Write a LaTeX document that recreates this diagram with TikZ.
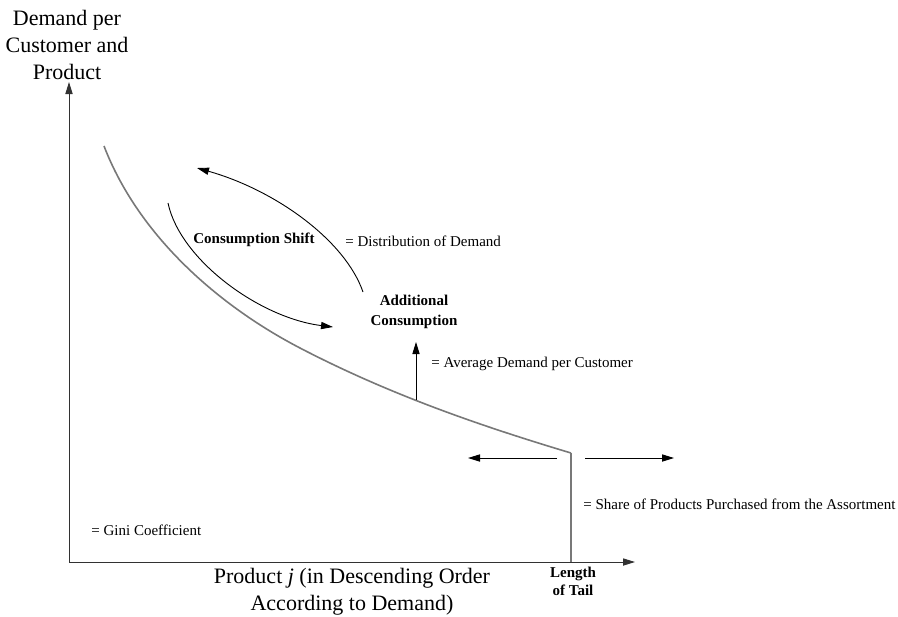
\documentclass[tikz,border=0pt]{standalone}
\usepackage{fontspec}
\setmainfont{Liberation Serif}
\usetikzlibrary{arrows.meta}
\definecolor{cCurve}{RGB}{120, 120, 120}
\definecolor{cAxis}{RGB}{50, 50, 50}

\begin{document}
\begin{tikzpicture}[
    x=0.5pt,
    y=-0.5pt,
    >={Triangle[length=6pt, width=3.6pt]},
    axis/.style={draw=cAxis, line width=0.5pt},
    demand/.style={draw=cCurve, line width=0.8pt},
    pointer/.style={->, line width=0.45pt},
    bigtext/.style={font=\fontsize{11}{13.5}\selectfont, align=center, inner sep=0pt},
    smalltext/.style={font=\fontsize{7.5}{10}\selectfont, inner sep=0pt},
    boldtext/.style={font=\fontsize{7.5}{10}\selectfont\bfseries, align=center, inner sep=0pt}
]
    \useasboundingbox (0,0) rectangle (898,616);

    % --- Achsen ---
    \coordinate (origin) at (69,562);
    \coordinate (ytop) at (69,82);
    \coordinate (xend) at (635,562);
    \draw[axis, ->] (origin) -- (ytop);
    \draw[axis, ->] (origin) -- (xend);

    \node (ylabel) [bigtext] at (67,45) {Demand per\\Customer and\\Product};
    \node (xlabel) [bigtext] at (352,592) {Product \textit{j} (in Descending Order\\According to Demand)};
    \node (tail) [boldtext, font=\fontsize{7.5}{9}\selectfont\bfseries] at (573,581) {Length\\of Tail};

    % --- Nachfragekurve ---
    \coordinate (headtop) at (104,146);
    \coordinate (midcurve) at (300,348);
    \coordinate (corner) at (571,453);
    \coordinate (tailfoot) at (571,562);
    \draw[demand] (headtop) .. controls (139,237) and (220,306.4) .. (midcurve)
                            .. controls (390,394.8) and (481,426) .. (corner);
    \draw[demand] (corner) -- (tailfoot);

    % --- Verschiebung ---
    \coordinate (lowstart) at (168,203);
    \coordinate (lowend) at (333,327);
    \coordinate (upstart) at (363,292);
    \coordinate (upend) at (197,168);
    \draw[pointer] (lowstart) .. controls (180,260) and (260,318) .. (lowend);
    \draw[pointer] (upstart) .. controls (345,240) and (275,190) .. (upend);
    \node (cshift) [boldtext] at (254,240) {Consumption Shift};
    \node (distrib) [smalltext, anchor=west] at (345,241) {= Distribution of Demand};

    % --- Zusatzkonsum ---
    \node (addcons) [boldtext] at (414,312) {Additional\\Consumption};
    \coordinate (avgpt) at (416,400);
    \coordinate (avgtip) at (416,342);
    \draw[pointer] (avgpt) -- (avgtip);
    \node (avgdemand) [smalltext, anchor=west] at (431,364) {= Average Demand per Customer};

    % --- Laenge des Tails ---
    \coordinate (leftstart) at (557,458);
    \coordinate (leftend) at (468,458);
    \coordinate (rightstart) at (585,458);
    \coordinate (rightend) at (674,458);
    \draw[pointer] (leftstart) -- (leftend);
    \draw[pointer] (rightstart) -- (rightend);
    \node (share) [smalltext, anchor=west] at (583,504) {= Share of Products Purchased from the Assortment};

    \node (gini) [smalltext, anchor=west] at (91,530) {= Gini Coefficient};

\end{tikzpicture}
\end{document}
